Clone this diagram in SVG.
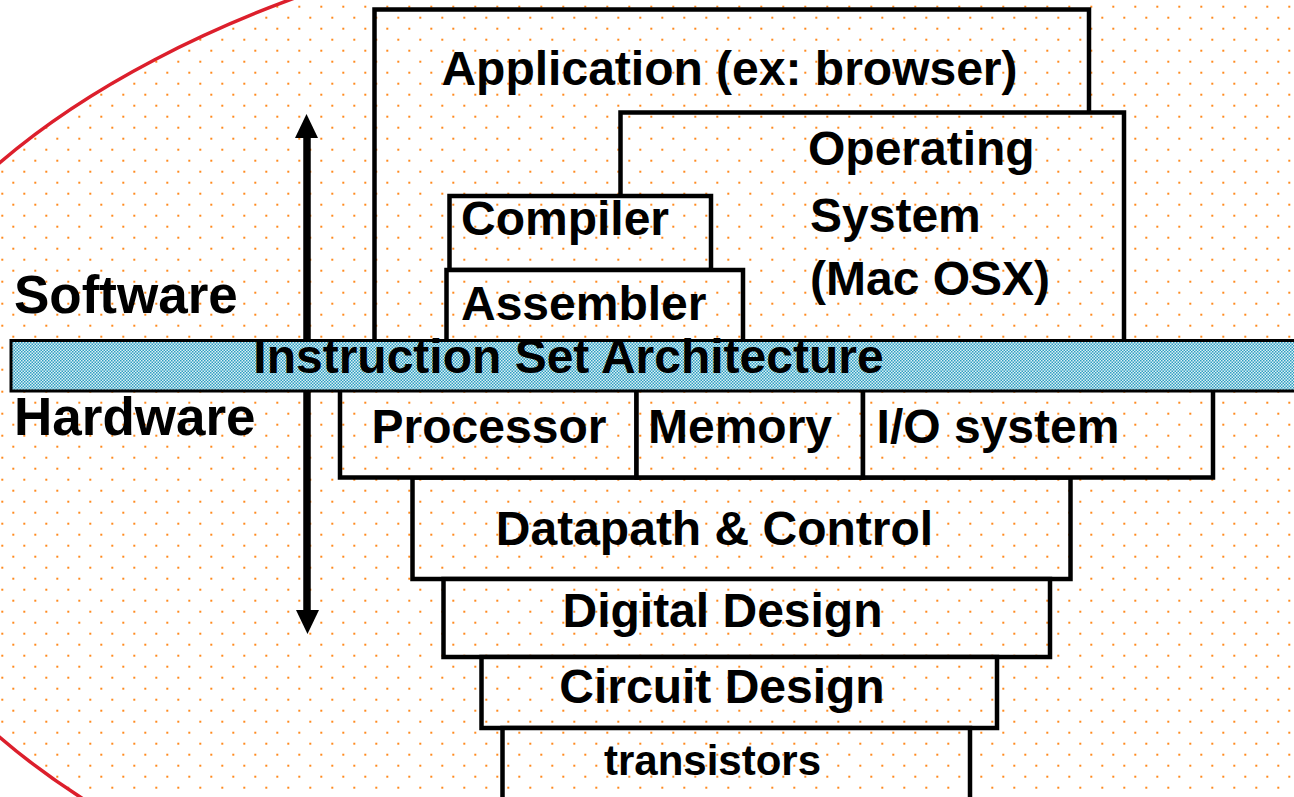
<svg xmlns="http://www.w3.org/2000/svg" width="1294" height="797" viewBox="0 0 1294 797">
<defs>
  <pattern id="dots" patternUnits="userSpaceOnUse" width="22" height="22">
    <rect x="12.3" y="5.7" width="2" height="2" fill="#FF8A1E"/>
    <rect x="1.3" y="16.7" width="2" height="2" fill="#FF8A1E"/>
  </pattern>
  <pattern id="dotsW" patternUnits="userSpaceOnUse" width="22" height="22">
    <rect width="22" height="22" fill="#FFFFFF"/>
    <rect x="12.3" y="5.7" width="2" height="2" fill="#FF8A1E"/>
    <rect x="1.3" y="16.7" width="2" height="2" fill="#FF8A1E"/>
  </pattern>
  <pattern id="check" patternUnits="userSpaceOnUse" width="3" height="3">
    <rect width="3" height="3" fill="#DDF0F5"/>
    <rect x="0" y="0" width="1.5" height="1.5" fill="#2E9FC2"/>
    <rect x="1.5" y="1.5" width="1.5" height="1.5" fill="#2E9FC2"/>
  </pattern>
  <clipPath id="ell"><ellipse cx="900" cy="450" rx="1054" ry="552"/></clipPath>
  <marker id="ah" viewBox="0 0 24 23" refX="12" refY="12" markerWidth="24" markerHeight="23" markerUnits="userSpaceOnUse" orient="auto-start-reverse">
    <path d="M0,0 L24,11.5 L0,23 Z" fill="#000"/>
  </marker>
</defs>
<style>
  .box { fill: url(#dotsW); stroke: #000; stroke-width: 4.5; }
  .t { font-family: "Liberation Sans", Arial, sans-serif; font-weight: bold; font-size: 48px; fill: #000; }
  .m { text-anchor: middle; }
  .side { font-size: 53px; }
</style>
<rect width="1294" height="797" fill="#FFFFFF"/>
<g id="background">
  <rect width="1294" height="797" fill="url(#dots)" clip-path="url(#ell)"/>
  <ellipse cx="900" cy="450" rx="1054" ry="552" fill="none" stroke="#DC1F2C" stroke-width="3.5"/>
</g>
<g id="connectors">
  <line x1="307" y1="126" x2="307" y2="622" stroke="#000" stroke-width="7.5" marker-start="url(#ah)" marker-end="url(#ah)"/>
</g>
<g id="application"><rect class="box" x="374.5" y="9.5" width="714.5" height="340"/><text class="t m" x="729.5" y="85">Application (ex: browser)</text></g>
<g id="os"><rect class="box" x="620.5" y="112.5" width="503.5" height="237"/>
  <text class="t" x="808" y="165">Operating</text>
  <text class="t" x="810" y="232">System</text>
  <text class="t" x="810" y="295">(Mac OSX)</text>
</g>
<g id="compiler"><rect class="box" x="449.5" y="196" width="261.5" height="74"/><text class="t" x="461" y="235">Compiler</text></g>
<g id="assembler"><rect class="box" x="446.5" y="270" width="296.5" height="80"/><text class="t" x="461" y="320">Assembler</text></g>
<g id="datapath"><rect class="box" x="412.5" y="477.5" width="658" height="101.5"/><text class="t m" x="714.5" y="545">Datapath &amp; Control</text></g>
<g id="processor"><rect class="box" x="340" y="385" width="296.5" height="92.5"/><text class="t m" x="489" y="443">Processor</text></g>
<g id="memory"><rect class="box" x="636.5" y="385" width="226.5" height="92.5"/><text class="t m" x="740" y="443">Memory</text></g>
<g id="io"><rect class="box" x="863" y="385" width="350" height="92.5"/><text class="t m" x="998" y="443">I/O system</text></g>
<g id="digital"><rect class="box" x="443.5" y="579" width="606.5" height="78"/><text class="t m" x="722.5" y="627">Digital Design</text></g>
<g id="circuit"><rect class="box" x="481.5" y="657" width="515.5" height="71"/><text class="t m" x="722" y="703">Circuit Design</text></g>
<g id="transistors"><rect class="box" x="502.5" y="728" width="467.5" height="90"/><text class="t m" x="712.5" y="775" style="font-size:42px">transistors</text></g>
<g id="isa"><rect x="11" y="340.5" width="1300" height="50.5" fill="url(#check)" stroke="#000" stroke-width="3"/><text class="t m" x="568.5" y="373">Instruction Set Architecture</text></g>
<g id="labels">
  <text class="t side" x="14" y="313">Software</text>
  <text class="t side" x="14" y="435">Hardware</text>
</g>
</svg>
